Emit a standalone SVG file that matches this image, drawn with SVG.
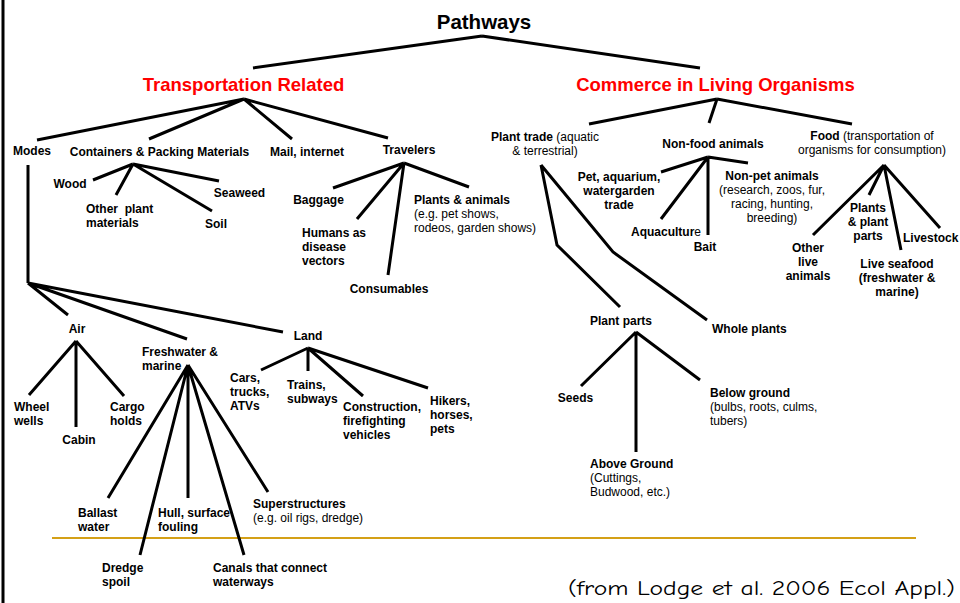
<svg xmlns="http://www.w3.org/2000/svg" width="960" height="603" viewBox="0 0 960 603">
<style>
text{font-family:"Liberation Sans",Arial,sans-serif;font-size:12px;fill:#000}
.b{font-weight:bold}
.m{text-anchor:middle}
.h{font-size:18.5px;font-weight:bold;fill:#ff0000}
.t{font-size:20.5px;font-weight:bold}
.c path{stroke:#000;stroke-width:3;fill:none}
.cit{font-family:"Comic Sans MS","Comic Neue","DejaVu Sans",sans-serif;font-size:21px}
</style>
<rect width="960" height="603" fill="#fff"/>
<path d="M3 0V603" stroke="#000" stroke-width="3"/>
<path d="M52 538H916" stroke="#D4A017" stroke-width="2.2"/>
<g class="c" id="connectors">
<path d="M482 36L253 68M482 36L700 68"/>
<path d="M244 99L37 140M244 99L149 139M244 99L292 139M244 99L388 138"/>
<path d="M717 99L589 124M717 99L709 123M717 99L852 124"/>
<path d="M28 165V283M28 283L68 315M28 283L187 339M28 283L283 332"/>
<path d="M133 164L93 180M133 164L116 195M133 164L212 211M133 164L219 181"/>
<path d="M404 163L333 188M404 163L357 219M404 163L388 275M404 163L469 187"/>
<path d="M76 341L29 395M76 341V427M76 341L124 396"/>
<path d="M188 365L108 498M188 365L140 555M188 365V498M188 365L244 555M188 365L268 492"/>
<path d="M308 348L261 370M308 348V371M308 348L363 396M308 348L428 388"/>
<path d="M541 165L557 245L620 307M541 165L613 252L707 320"/>
<path d="M708 157L661 172M708 157L661 219M708 157V235M708 157L748 163"/>
<path d="M884 165L813 235M884 165L869 195M884 165L901 250M884 165L940 228"/>
<path d="M636 332L581 386M636 332V452M636 332L700 380"/>
</g>
<g id="pathways"><text class="t m" x="484" y="29">Pathways</text></g>
<g id="transport"><text class="h m" x="243.5" y="91">Transportation Related</text></g>
<g id="commerce"><text class="h m" x="715.5" y="91">Commerce in Living Organisms</text></g>
<g id="modes"><text class="b m" x="32" y="155">Modes</text></g>
<g id="containers"><text class="b m" x="159.5" y="156">Containers &amp; Packing Materials</text></g>
<g id="mail"><text class="b m" x="307" y="156">Mail, internet</text></g>
<g id="travelers"><text class="b m" x="409" y="154">Travelers</text></g>
<g id="wood"><text class="b m" x="70" y="188">Wood</text></g>
<g id="otherplant"><text class="b" x="86" y="213" style="white-space:pre">Other  plant</text><text class="b" x="86" y="227">materials</text></g>
<g id="soil"><text class="b m" x="216" y="228">Soil</text></g>
<g id="seaweed"><text class="b m" x="239.5" y="197">Seaweed</text></g>
<g id="baggage"><text class="b m" x="318.5" y="204">Baggage</text></g>
<g id="humans"><text class="b" x="302" y="237">Humans as</text><text class="b" x="302" y="251">disease</text><text class="b" x="302" y="265">vectors</text></g>
<g id="consumables"><text class="b m" x="389" y="293">Consumables</text></g>
<g id="plantsanimals"><text class="b" x="414" y="204">Plants &amp; animals</text><text x="414" y="218">(e.g. pet shows,</text><text x="414" y="232">rodeos, garden shows)</text></g>
<g id="air"><text class="b m" x="77" y="333">Air</text></g>
<g id="wheelwells"><text class="b" x="14" y="411">Wheel</text><text class="b" x="14" y="425">wells</text></g>
<g id="cabin"><text class="b m" x="79" y="444">Cabin</text></g>
<g id="cargo"><text class="b" x="110" y="411">Cargo</text><text class="b" x="110" y="425">holds</text></g>
<g id="freshwater"><text class="b" x="142" y="356">Freshwater &amp;</text><text class="b" x="142" y="370">marine</text></g>
<g id="land"><text class="b m" x="308" y="340">Land</text></g>
<g id="cars"><text class="b" x="230" y="382">Cars,</text><text class="b" x="230" y="396">trucks,</text><text class="b" x="230" y="410">ATVs</text></g>
<g id="trains"><text class="b" x="287" y="389">Trains,</text><text class="b" x="287" y="403">subways</text></g>
<g id="construction"><text class="b" x="343" y="411">Construction,</text><text class="b" x="343" y="425">firefighting</text><text class="b" x="343" y="439">vehicles</text></g>
<g id="hikers"><text class="b" x="430" y="405">Hikers,</text><text class="b" x="430" y="419">horses,</text><text class="b" x="430" y="433">pets</text></g>
<g id="ballast"><text class="b" x="78" y="517">Ballast</text><text class="b" x="78" y="531">water</text></g>
<g id="hull"><text class="b" x="158" y="517">Hull, surface</text><text class="b" x="158" y="531">fouling</text></g>
<g id="superstructures"><text class="b" x="253" y="508">Superstructures</text><text x="253" y="522">(e.g. oil rigs, dredge)</text></g>
<g id="dredge"><text class="b" x="102" y="572">Dredge</text><text class="b" x="102" y="586">spoil</text></g>
<g id="canals"><text class="b" x="213" y="572">Canals that connect</text><text class="b" x="213" y="586">waterways</text></g>
<g id="planttrade"><text class="m" x="545" y="141"><tspan class="b">Plant trade</tspan> (aquatic</text><text class="m" x="545" y="155">&amp; terrestrial)</text></g>
<g id="nonfood"><text class="b m" x="713" y="148">Non-food animals</text></g>
<g id="food"><text class="m" x="872" y="140"><tspan class="b">Food</tspan> (transportation of</text><text class="m" x="872" y="154">organisms for consumption)</text></g>
<g id="pet"><text class="b m" x="619" y="181">Pet, aquarium,</text><text class="b m" x="619" y="195">watergarden</text><text class="b m" x="619" y="209">trade</text></g>
<g id="aquaculture"><text x="631" y="236"><tspan class="b">Aquacultur</tspan>e</text></g>
<g id="bait"><text class="b m" x="705" y="251">Bait</text></g>
<g id="nonpet"><text class="b m" x="772" y="180">Non-pet animals</text><text class="m" x="772" y="194">(research, zoos, fur,</text><text class="m" x="772" y="208">racing, hunting,</text><text class="m" x="772" y="222">breeding)</text></g>
<g id="otherlive"><text class="b m" x="808" y="252">Other</text><text class="b m" x="808" y="266">live</text><text class="b m" x="808" y="280">animals</text></g>
<g id="plantsplantparts"><text class="b m" x="868" y="212">Plants</text><text class="b m" x="868" y="226">&amp; plant</text><text class="b m" x="868" y="240">parts</text></g>
<g id="livestock"><text class="b" x="903" y="242">Livestock</text></g>
<g id="liveseafood"><text class="b m" x="897" y="268">Live seafood</text><text class="b m" x="897" y="282">(freshwater &amp;</text><text class="b m" x="897" y="296">marine)</text></g>
<g id="plantparts"><text class="b m" x="621" y="325">Plant parts</text></g>
<g id="wholeplants"><text class="b" x="712" y="333">Whole plants</text></g>
<g id="seeds"><text class="b m" x="575.5" y="402">Seeds</text></g>
<g id="aboveground"><text class="b" x="590" y="468">Above Ground</text><text x="590" y="482">(Cuttings,</text><text x="590" y="496">Budwood, etc.)</text></g>
<g id="belowground"><text class="b" x="710" y="397">Below ground</text><text x="710" y="411">(bulbs, roots, culms,</text><text x="710" y="425">tubers)</text></g>
<g id="citation"><text class="cit" x="568" y="595" textLength="387" lengthAdjust="spacingAndGlyphs">(from Lodge et al. 2006 Ecol Appl.)</text></g>
</svg>
